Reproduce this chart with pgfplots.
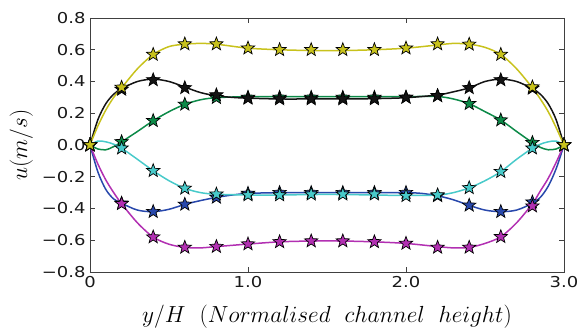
\RequirePackage{fix-cm}
\documentclass[border=0pt]{standalone}
\usepackage{fontspec}
\usepackage{pgfplots}
\pgfplotsset{compat=1.18}
\newfontfamily\dejavu[FakeStretch=1.2]{DejaVu Sans}
\definecolor{colY}{RGB}{200,194,28}
\definecolor{colG}{RGB}{12,138,72}
\definecolor{colC}{RGB}{72,202,202}
\definecolor{colB}{RGB}{40,72,172}
\definecolor{colM}{RGB}{178,48,178}
\definecolor{colK}{RGB}{20,20,20}
\pgfdeclareplotmark{fstar}{%
  \pgfpathmoveto{\pgfpointpolar{90}{\pgfplotmarksize}}%
  \pgfpathlineto{\pgfpointpolar{126}{0.42\pgfplotmarksize}}%
  \pgfpathlineto{\pgfpointpolar{162}{\pgfplotmarksize}}%
  \pgfpathlineto{\pgfpointpolar{198}{0.42\pgfplotmarksize}}%
  \pgfpathlineto{\pgfpointpolar{234}{\pgfplotmarksize}}%
  \pgfpathlineto{\pgfpointpolar{270}{0.42\pgfplotmarksize}}%
  \pgfpathlineto{\pgfpointpolar{306}{\pgfplotmarksize}}%
  \pgfpathlineto{\pgfpointpolar{342}{0.42\pgfplotmarksize}}%
  \pgfpathlineto{\pgfpointpolar{18}{\pgfplotmarksize}}%
  \pgfpathlineto{\pgfpointpolar{54}{0.42\pgfplotmarksize}}%
  \pgfpathclose\pgfusepathqfillstroke}
\pgfplotsset{
  cl/.style={smooth, no marks, line width=1.5pt, color=#1},
  mk/.style={only marks, mark=fstar, mark size=7pt, mark options={fill=#1, draw=black, line width=0.7pt}},
}
\begin{document}
\begin{tikzpicture}
\begin{axis}[
  scale only axis, width=474pt, height=254pt,
  xmin=0, xmax=3, ymin=-0.8, ymax=0.8,
  xtick={0,1,2,3}, xticklabels={0,1.0,2.0,3.0},
  ytick={-0.8,-0.6,-0.4,-0.2,0,0.2,0.4,0.6,0.8},
  yticklabels={−0.8,−0.6,−0.4,−0.2,0.0,0.2,0.4,0.6,0.8},
  tick align=inside, major tick length=5pt,
  tick style={color=black!75, line width=0.7pt},
  axis line style={color=black!75, line width=0.9pt},
  tick label style={font=\dejavu\fontsize{15}{16}\selectfont, text=black!90},
  xticklabel style={yshift=-1pt},
  yticklabel style={xshift=-1pt},
  xlabel={\fontsize{23.3}{25}\selectfont$y/H\ \ (Normalised\ \ channel\ \ height)$},
  ylabel={\fontsize{23.3}{25}\selectfont$u(m/s)$},
  xlabel style={at={(axis description cs:0.5,-0.19685)}, anchor=base},
  ylabel style={at={(axis description cs:-0.1329,0.5)}, anchor=base},
  clip mode=individual,
]
\coordinate (ll) at (rel axis cs:0,0);
% lines
\addplot[cl=colG] coordinates {(0,0)(0.05,-0.025)(0.1,-0.03)(0.15,-0.01)(0.2,0.02)(0.3,0.085)(0.4,0.153)(0.5,0.21)(0.6,0.256)(0.7,0.285)(0.8,0.298)(1.0,0.305)(1.2,0.305)(1.4,0.305)(1.6,0.305)(1.8,0.305)(2.0,0.305)(2.2,0.305)(2.3,0.29)(2.4,0.26)(2.5,0.21)(2.6,0.157)(2.7,0.085)(2.8,0.015)(2.85,-0.015)(2.9,-0.03)(2.95,-0.025)(3.0,0)};
\addplot[cl=colK] coordinates {(0,0)(0.05,0.16)(0.1,0.26)(0.15,0.32)(0.2,0.355)(0.3,0.40)(0.4,0.415)(0.5,0.40)(0.6,0.365)(0.7,0.33)(0.8,0.31)(0.9,0.30)(1.0,0.295)(1.2,0.29)(1.4,0.29)(1.6,0.29)(1.8,0.292)(2.0,0.298)(2.2,0.315)(2.3,0.335)(2.4,0.36)(2.5,0.40)(2.6,0.415)(2.7,0.40)(2.8,0.355)(2.85,0.32)(2.9,0.26)(2.95,0.16)(3.0,0)};
\addplot[cl=colB] coordinates {(0,0)(0.05,-0.17)(0.1,-0.28)(0.15,-0.34)(0.2,-0.367)(0.3,-0.41)(0.4,-0.42)(0.5,-0.405)(0.6,-0.374)(0.7,-0.35)(0.8,-0.33)(0.9,-0.315)(1.0,-0.305)(1.2,-0.30)(1.4,-0.30)(1.6,-0.30)(1.8,-0.30)(2.0,-0.30)(2.1,-0.305)(2.2,-0.32)(2.3,-0.345)(2.4,-0.38)(2.5,-0.41)(2.6,-0.42)(2.7,-0.41)(2.8,-0.367)(2.85,-0.33)(2.9,-0.26)(2.95,-0.15)(3.0,0)};
\addplot[cl=colM] coordinates {(0,0)(0.05,-0.12)(0.1,-0.22)(0.15,-0.30)(0.2,-0.37)(0.3,-0.49)(0.4,-0.58)(0.5,-0.625)(0.6,-0.645)(0.7,-0.648)(0.8,-0.64)(1.0,-0.624)(1.2,-0.61)(1.4,-0.605)(1.6,-0.605)(1.8,-0.61)(2.0,-0.62)(2.2,-0.64)(2.3,-0.648)(2.4,-0.645)(2.5,-0.62)(2.6,-0.578)(2.7,-0.49)(2.8,-0.37)(2.85,-0.29)(2.9,-0.21)(2.95,-0.11)(3.0,0)};
\addplot[cl=colC] coordinates {(0,0)(0.05,0.025)(0.1,0.02)(0.15,0.005)(0.2,-0.02)(0.3,-0.09)(0.4,-0.162)(0.5,-0.225)(0.6,-0.273)(0.7,-0.30)(0.8,-0.31)(1.0,-0.315)(1.2,-0.315)(1.4,-0.312)(1.6,-0.312)(1.8,-0.315)(2.0,-0.318)(2.2,-0.315)(2.3,-0.30)(2.4,-0.27)(2.5,-0.225)(2.6,-0.168)(2.7,-0.09)(2.8,-0.02)(2.85,0.005)(2.9,0.02)(2.95,0.025)(3.0,0)};
\addplot[cl=colY] coordinates {(0,0)(0.05,0.12)(0.1,0.22)(0.15,0.30)(0.2,0.36)(0.3,0.48)(0.4,0.57)(0.5,0.62)(0.6,0.635)(0.7,0.64)(0.8,0.635)(1.0,0.61)(1.2,0.60)(1.4,0.595)(1.6,0.595)(1.8,0.60)(2.0,0.61)(2.2,0.63)(2.3,0.64)(2.4,0.635)(2.5,0.615)(2.6,0.57)(2.7,0.48)(2.8,0.36)(2.85,0.29)(2.9,0.21)(2.95,0.11)(3.0,0)};
% markers
\addplot[mk=colG] coordinates {(0,0)(0.2,0.02)(0.4,0.153)(0.6,0.256)(0.8,0.298)(1.0,0.30)(1.2,0.30)(1.4,0.30)(1.6,0.30)(1.8,0.30)(2.0,0.30)(2.2,0.31)(2.4,0.26)(2.6,0.157)(2.8,0.015)(3.0,0)};
\addplot[mk=colK] coordinates {(0,0)(0.2,0.35)(0.4,0.41)(0.6,0.36)(0.8,0.315)(1.0,0.294)(1.2,0.29)(1.4,0.29)(1.6,0.29)(1.8,0.29)(2.0,0.30)(2.2,0.31)(2.4,0.36)(2.6,0.41)(2.8,0.357)(3.0,0)};
\addplot[mk=colB] coordinates {(0,0)(0.2,-0.367)(0.4,-0.42)(0.6,-0.374)(0.8,-0.33)(1.0,-0.305)(1.2,-0.30)(1.4,-0.30)(1.6,-0.30)(1.8,-0.30)(2.0,-0.30)(2.2,-0.32)(2.4,-0.38)(2.6,-0.42)(2.8,-0.36)(3.0,0)};
\addplot[mk=colM] coordinates {(0,0)(0.2,-0.37)(0.4,-0.58)(0.6,-0.645)(0.8,-0.64)(1.0,-0.624)(1.2,-0.61)(1.4,-0.605)(1.6,-0.605)(1.8,-0.61)(2.0,-0.62)(2.2,-0.645)(2.4,-0.645)(2.6,-0.578)(2.8,-0.385)(3.0,0)};
\addplot[mk=colC] coordinates {(0,0)(0.2,-0.02)(0.4,-0.162)(0.6,-0.273)(0.8,-0.31)(1.0,-0.315)(1.2,-0.315)(1.4,-0.31)(1.6,-0.31)(1.8,-0.31)(2.0,-0.32)(2.2,-0.315)(2.4,-0.27)(2.6,-0.168)(2.8,-0.02)(3.0,0)};
\addplot[mk=colY] coordinates {(0,0)(0.2,0.363)(0.4,0.57)(0.6,0.636)(0.8,0.636)(1.0,0.61)(1.2,0.60)(1.4,0.60)(1.6,0.60)(1.8,0.60)(2.0,0.61)(2.2,0.636)(2.4,0.634)(2.6,0.57)(2.8,0.365)(3.0,0)};
\end{axis}
\pgfresetboundingbox
\path (ll) ++(-90pt,-58pt) rectangle ++(577pt,330pt);
\end{tikzpicture}
\end{document}
